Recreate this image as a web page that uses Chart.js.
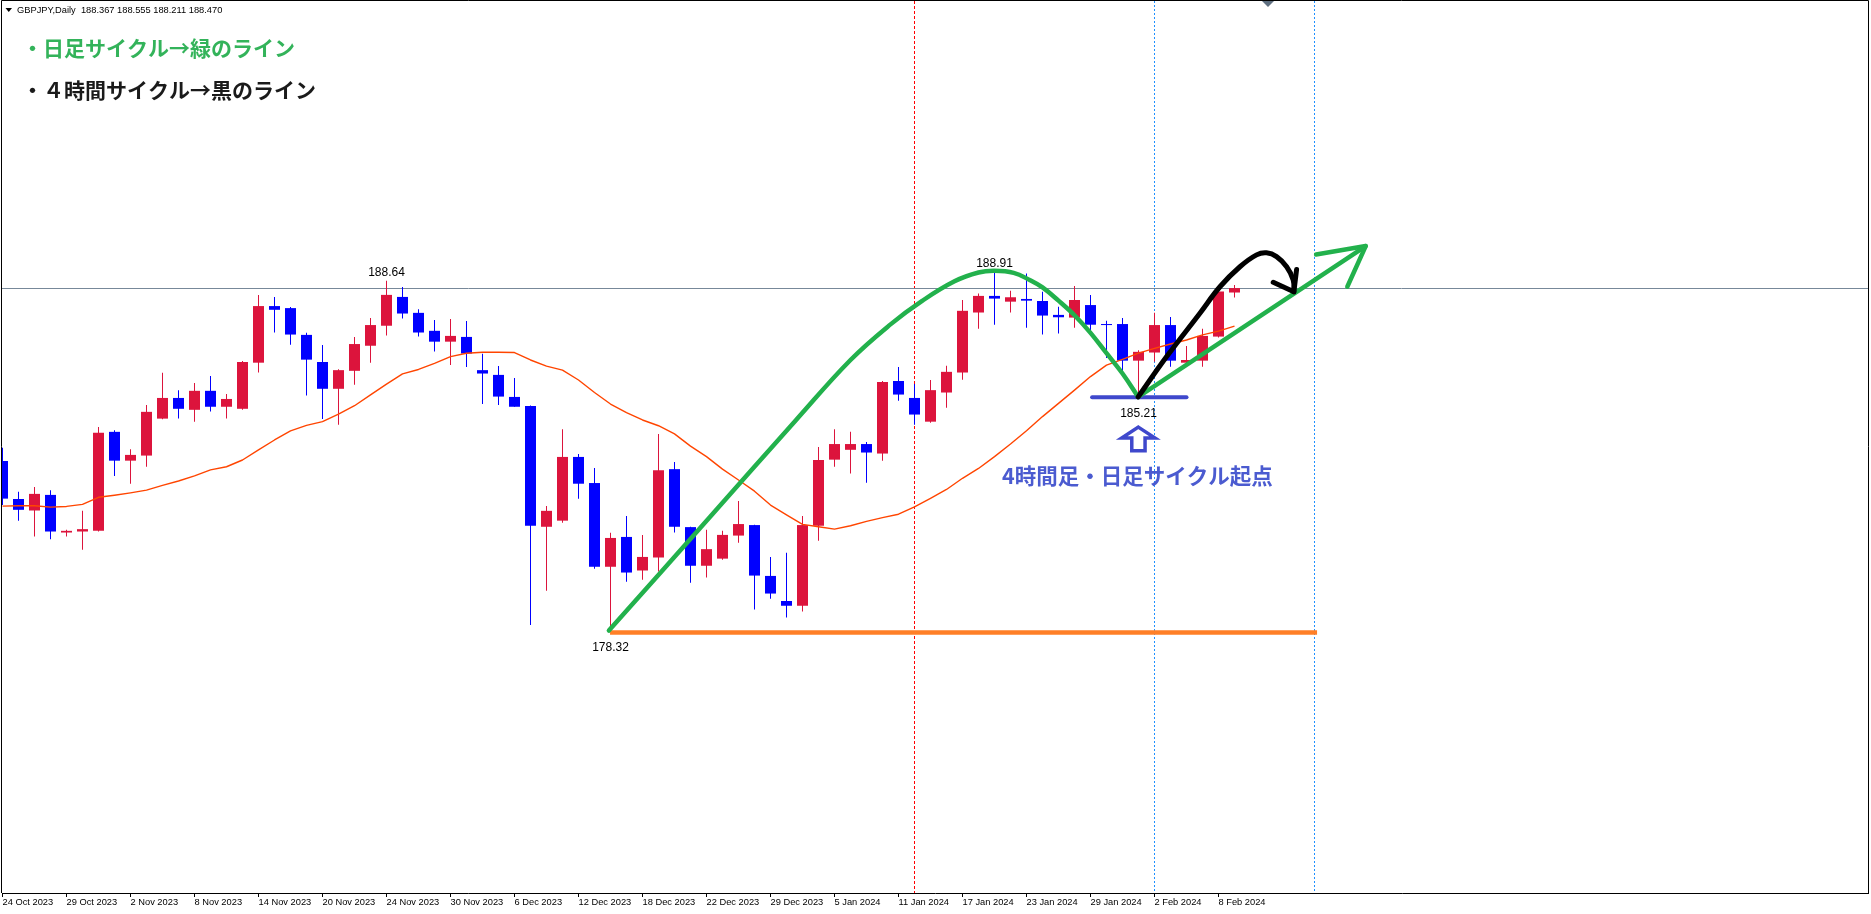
<!DOCTYPE html>
<html><head><meta charset="utf-8">
<script src="https://cdn.jsdelivr.net/npm/chart.js@4.4.1/dist/chart.umd.min.js"></script>
<style>html,body{margin:0;padding:0;background:#fff;overflow:hidden}#wrap{width:1871px;height:914px;position:relative}canvas{display:block}</style>
</head><body><div id="wrap"><canvas id="c" width="1871" height="914"></canvas></div>
<script>
// ---------- DATA ----------
const symbolTitle = 'GBPJPY,Daily';
const headerOHLC = ['188.367', '188.555', '188.211', '188.470'];
const dateLabels = ['24 Oct 2023','29 Oct 2023','2 Nov 2023','8 Nov 2023','14 Nov 2023','20 Nov 2023','24 Nov 2023','30 Nov 2023','6 Dec 2023','12 Dec 2023','18 Dec 2023','22 Dec 2023','29 Dec 2023','5 Jan 2024','11 Jan 2024','17 Jan 2024','23 Jan 2024','29 Jan 2024','2 Feb 2024','8 Feb 2024'];
const barsPerLabel = 4;

const opens = [183.32,182.20,181.86,182.32,181.21,181.24,181.26,184.18,183.33,183.48,
184.57,185.18,184.83,185.39,184.92,184.86,186.22,187.89,187.83,187.04,
186.24,185.45,185.98,186.72,187.31,188.16,187.69,187.16,186.84,186.98,
186.00,185.86,185.21,184.94,181.38,181.56,183.44,182.67,180.20,181.08,
180.09,180.47,183.08,181.37,180.23,180.44,181.12,181.43,179.93,179.19,
179.05,181.41,183.36,183.65,183.82,183.54,185.68,185.18,184.48,185.34,
185.93,187.70,188.19,188.02,188.10,188.04,187.63,187.55,187.92,187.36,
187.36,186.28,186.52,187.33,186.22,186.28,186.99,188.29];
const highs = [183.71,182.41,182.55,182.46,181.29,181.85,184.32,184.23,183.67,184.97,
185.92,185.41,185.62,185.83,185.30,186.27,188.22,188.16,187.86,187.10,
186.74,186.03,186.98,187.54,188.64,188.45,187.80,187.48,187.51,187.45,
186.48,186.12,185.77,184.96,181.99,184.26,183.53,183.11,181.20,181.70,
181.14,184.12,183.29,181.38,181.29,181.26,182.14,181.44,180.49,180.61,
181.70,183.73,184.26,184.18,183.88,185.68,186.09,185.59,185.71,186.13,
188.07,188.26,188.91,188.34,188.85,188.31,187.87,188.48,188.22,187.46,
187.54,186.59,187.69,187.57,186.71,187.22,188.37,188.51];
const lows = [182.02,181.56,181.09,181.01,181.09,180.70,181.24,182.88,182.65,183.15,
184.55,184.57,184.48,184.78,184.57,184.83,185.93,187.11,186.75,185.25,
184.56,184.39,185.57,186.22,187.02,187.52,186.99,186.55,186.15,186.09,
185.00,184.97,184.92,178.48,179.49,181.50,182.21,180.14,178.32,179.76,
179.82,180.06,181.21,179.73,179.88,180.41,180.91,178.94,179.26,178.70,
178.88,180.97,183.15,182.95,182.68,183.33,185.10,184.39,184.45,184.89,
185.72,187.22,187.34,187.70,187.25,187.05,187.08,187.25,187.05,186.36,
185.93,185.21,186.25,186.10,186.10,186.10,186.96,188.14];
const closes = [182.21,181.88,182.35,181.24,181.26,181.31,184.15,183.33,183.50,184.77,
185.18,184.86,185.39,184.92,185.15,186.24,187.89,187.78,187.05,186.31,
185.45,186.00,186.77,187.33,188.22,187.67,187.11,186.84,187.01,186.49,
185.90,185.22,184.92,181.41,181.85,183.44,182.65,180.20,181.05,180.03,
180.49,183.05,181.38,180.23,180.72,181.14,181.46,179.94,179.41,179.05,
181.43,183.35,183.82,183.82,183.57,185.65,185.28,184.69,185.41,185.95,
187.75,188.19,188.11,188.15,188.05,187.61,187.56,188.07,187.34,187.33,
186.28,186.54,187.33,186.28,186.30,187.01,188.32,188.42];
const movingAvg = [181.99,182.00,182.00,181.96,181.98,182.04,182.25,182.31,182.38,182.46,
182.60,182.73,182.88,183.06,183.15,183.35,183.65,183.94,184.21,184.37,
184.48,184.70,184.95,185.27,185.59,185.89,186.02,186.20,186.40,186.50,
186.53,186.53,186.52,186.30,186.12,186.00,185.71,185.34,185.00,184.75,
184.53,184.36,184.12,183.76,183.45,183.08,182.76,182.43,182.02,181.73,
181.45,181.38,181.31,181.41,181.54,181.65,181.75,181.97,182.22,182.48,
182.81,183.10,183.45,183.82,184.21,184.63,185.02,185.41,185.81,186.15,
186.32,186.50,186.64,186.77,186.89,187.04,187.15,187.30];

const bidPrice = 188.42;
const redVLines = [57];
const blueVLines = [72, 82];
// marked extremes: [bar index, price]
const markedHighs = [[24, 188.64], [62, 188.91]];
const markedLows = [[38, 178.32], [71, 185.21]];

// hand-drawn annotations, [bar index, price]
const greenCycle = [[37.9,178.32],[44.2,181.66],[49.6,184.53],[53.0,186.30],[55.5,187.35],[57.5,188.05],[59.5,188.62],[61.0,188.88],[62.0,188.93],[63.2,188.87],[64.2,188.66],[65.0,188.44],[66.0,188.05],[67.0,187.62],[68.0,187.10],[69.0,186.50],[70.0,185.90],[70.98,185.21]];
const greenTrend = [[70.98,185.21],[85.2,189.66]];
const greenHead = [[82.1,189.41],[85.2,189.66],[84.05,188.46]];
const blackCycle = [[70.98,185.21],[72.76,186.40],[74.84,187.68],[76.09,188.46],[77.34,189.05],[78.38,189.40],[79.0,189.46],[79.63,189.35],[80.26,189.05],[80.67,188.66],[80.71,188.31]];
const blackHead = [[80.88,188.97],[80.71,188.31],[79.42,188.59]];
const supportLine = [[37.97,178.26],[82.16,178.26]];
const cycleLowLine = [[68.1,185.20],[74.0,185.20]];
const upArrow = [[70.99,184.32],[72.03,184.00],[71.41,184.00],[71.41,183.62],[70.58,183.62],[70.58,184.00],[69.95,184.00]];
const cycleNote = {idx: 70.93, price: 182.88, text: '4時間足・日足サイクル起点'};
const legendLines = ['・日足サイクル→緑のライン', '・４時間サイクル→黒のライン'];

// ---------- CHART ----------
const UP = '#DC143C', DOWN = '#0000FF';
const pts = arr => arr.map(([x, y]) => ({x, y}));
const candleColor = c => closes[c.dataIndex] >= opens[c.dataIndex] ? UP : DOWN;
const lineDs = (data, color, width, order, extra) => Object.assign({
  type: 'line', data: pts(data), borderColor: color, borderWidth: width, pointRadius: 0,
  fill: false, tension: 0, order, borderCapStyle: 'round', borderJoinStyle: 'round'
}, extra || {});

const overlay = {
  id: 'overlay',
  beforeDatasetsDraw(chart) {
    const {ctx, chartArea: a, scales: {x, y}} = chart;
    ctx.save();
    ctx.lineWidth = 1;
    const vl = (idx, color, dash) => {
      const px = x.getPixelForValue(idx);
      ctx.strokeStyle = color; ctx.setLineDash(dash);
      ctx.beginPath(); ctx.moveTo(px, a.top); ctx.lineTo(px, a.bottom); ctx.stroke();
    };
    redVLines.forEach(v => vl(v, '#FF0000', [3, 2]));
    blueVLines.forEach(v => vl(v, '#1E90FF', [2, 2]));
    ctx.setLineDash([]);
    const by = Math.round(y.getPixelForValue(bidPrice)) + 0.5;
    ctx.strokeStyle = '#778899';
    ctx.beginPath(); ctx.moveTo(a.left, by); ctx.lineTo(a.right, by); ctx.stroke();
    ctx.restore();
  },
  afterDatasetsDraw(chart) {
    const {ctx, scales: {x, y}} = chart;
    ctx.save();
    // outlined up arrow
    ctx.strokeStyle = '#3F48CC'; ctx.lineWidth = 3.5; ctx.lineJoin = 'miter';
    ctx.beginPath();
    upArrow.forEach(([i, p], k) => { const px = x.getPixelForValue(i), py = y.getPixelForValue(p); k ? ctx.lineTo(px, py) : ctx.moveTo(px, py); });
    ctx.closePath(); ctx.stroke();
    // price labels
    ctx.fillStyle = '#000'; ctx.font = '12px "Liberation Sans", Arial, sans-serif';
    ctx.textAlign = 'center'; ctx.textBaseline = 'middle';
    markedHighs.forEach(([i, p]) => ctx.fillText(p.toFixed(2), x.getPixelForValue(i), y.getPixelForValue(p) - 8));
    markedLows.forEach(([i, p]) => ctx.fillText(p.toFixed(2), x.getPixelForValue(i), y.getPixelForValue(p) + 17));
    // note
    ctx.fillStyle = '#4b5bd0'; ctx.font = 'bold 21.5px "Noto Sans CJK JP", sans-serif';
    ctx.fillText(cycleNote.text, x.getPixelForValue(cycleNote.idx), y.getPixelForValue(cycleNote.price));
    ctx.restore();
  },
  afterDraw(chart) {
    const {ctx, chartArea: a} = chart;
    ctx.save();
    // frame
    ctx.strokeStyle = '#000'; ctx.lineWidth = 1;
    ctx.beginPath();
    ctx.moveTo(1.5, a.bottom); ctx.lineTo(1.5, 0.5); ctx.lineTo(a.right + 0.5, 0.5); ctx.lineTo(a.right + 0.5, a.bottom);
    ctx.stroke();
    // header
    ctx.fillStyle = '#000';
    ctx.beginPath(); ctx.moveTo(5.5, 8); ctx.lineTo(12, 8); ctx.lineTo(8.75, 12); ctx.closePath(); ctx.fill();
    ctx.font = '9.3px "Liberation Sans", Arial, sans-serif';
    ctx.textAlign = 'left'; ctx.textBaseline = 'middle';
    ctx.fillText(symbolTitle + '  ' + headerOHLC.join(' '), 17, 10.5);
    // chart shift marker
    ctx.fillStyle = '#5f6f80';
    ctx.beginPath(); ctx.moveTo(1262, 1); ctx.lineTo(1274, 1); ctx.lineTo(1268, 7); ctx.closePath(); ctx.fill();
    // legend notes
    ctx.font = 'bold 21px "Noto Sans CJK JP", sans-serif';
    ctx.fillStyle = '#33b35a'; ctx.fillText(legendLines[0], 22, 48);
    ctx.fillStyle = '#1a1a1a'; ctx.fillText(legendLines[1], 22, 90);
    ctx.restore();
  }
};

new Chart(document.getElementById('c'), {
  type: 'bar',
  data: {
    datasets: [
      lineDs(blackCycle, '#000000', 5, 0, {tension: 0.4}),
      lineDs(blackHead, '#000000', 5, 0),
      lineDs(greenCycle, '#22B14C', 4.5, 1, {tension: 0.4}),
      lineDs(greenTrend, '#22B14C', 4.5, 1),
      lineDs(greenHead, '#22B14C', 4.5, 1),
      lineDs(supportLine, '#FF7F27', 4.5, 2, {borderCapStyle: 'butt'}),
      lineDs(cycleLowLine, '#3F48CC', 4, 2),
      lineDs(movingAvg.map((v, i) => [i, v]), '#FF4500', 1.4, 4, {borderCapStyle: 'butt'}),
      {type: 'bar', data: opens.map((o, i) => ({x: i, y: [o, closes[i]]})), backgroundColor: candleColor,
       barThickness: 11, grouped: false, minBarLength: 1, inflateAmount: 0, borderWidth: 0, order: 5},
      {type: 'bar', data: lows.map((l, i) => ({x: i, y: [l, highs[i]]})), backgroundColor: candleColor,
       barThickness: 1, grouped: false, inflateAmount: 0, borderWidth: 0, order: 6}
    ]
  },
  options: {
    responsive: false, animation: false, events: [],
    layout: {padding: {left: 2, right: 3, top: 1, bottom: 0}},
    plugins: {legend: {display: false}, tooltip: {enabled: false}, title: {display: false}},
    scales: {
      x: {
        type: 'linear', min: -0.03125, max: 116.59375, offset: false,
        grid: {display: true, offset: false, drawOnChartArea: false, drawTicks: true, tickLength: 4, color: '#000', lineWidth: 1},
        border: {display: true, color: '#000', width: 1},
        ticks: {autoSkip: false, maxRotation: 0, minRotation: 0, align: 'start', padding: 0, color: '#000',
          font: {family: '"Liberation Sans", Arial, sans-serif', size: 9.3},
          callback: v => dateLabels[Math.round(v / barsPerLabel)] || ''},
        afterBuildTicks: s => { s.ticks = dateLabels.map((_, k) => ({value: k * barsPerLabel})); },
        afterFit: s => { s.height = 21; s.paddingLeft = 0; s.paddingRight = 0; }
      },
      y: {type: 'linear', display: false, min: 170.577, max: 196.889}
    }
  },
  plugins: [overlay]
});
</script>
</body></html>
